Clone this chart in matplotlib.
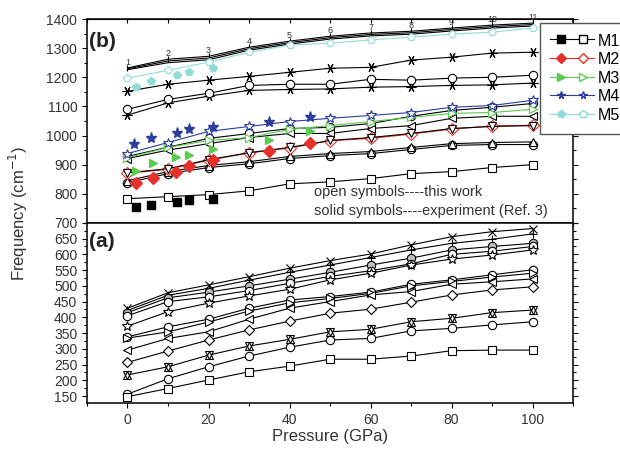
import matplotlib
matplotlib.use("Agg")
import matplotlib.pyplot as plt
from matplotlib.lines import Line2D
from matplotlib.legend_handler import HandlerTuple
from matplotlib.ticker import MultipleLocator

plt.rcParams['font.family'] = ['Liberation Sans', 'DejaVu Sans']

# pressure grid of the calculated (open symbol) curves
pressure = [0, 10, 20, 30, 40, 50, 60, 70, 80, 90, 100]

# ---- panel (b): high frequency modes ----
b_top1 = [1232, 1262, 1272, 1303, 1324, 1341, 1352, 1358, 1369, 1379, 1386]
b_top2 = [1229, 1256, 1266, 1298, 1319, 1336, 1347, 1353, 1364, 1374, 1381]
b_top3 = [1226, 1250, 1260, 1293, 1314, 1331, 1342, 1348, 1359, 1369, 1376]
b_ast_hi = [1152, 1176, 1190, 1203, 1217, 1231, 1234, 1259, 1269, 1283, 1286]
b_circ_hi = [1090, 1124, 1145, 1172, 1176, 1176, 1193, 1190, 1197, 1200, 1207]
b_ast_lo = [1070, 1112, 1135, 1155, 1158, 1160, 1166, 1168, 1172, 1174, 1180]
b_circ_mid = [928, 960, 990, 1007, 1024, 1028, 1041, 1066, 1086, 1097, 1110]
b_ltri = [921, 950, 972, 993, 1007, 1007, 1024, 1034, 1059, 1066, 1066]
b_dtri = [872, 886, 917, 941, 959, 983, 993, 1007, 1024, 1031, 1034]
b_utri = [845, 876, 897, 910, 928, 938, 945, 959, 972, 976, 978]
b_circ_lo = [838, 869, 890, 903, 921, 931, 938, 952, 966, 969, 969]

# open symbols, this work
m1_calc = [783, 790, 797, 810, 834, 841, 852, 869, 876, 890, 900]
m2_calc = [870, 884, 915, 940, 957, 982, 990, 1005, 1022, 1033, 1035]
m3_calc = [924, 959, 983, 993, 1021, 1034, 1048, 1062, 1076, 1079, 1090]
m4_calc = [938, 976, 1014, 1031, 1048, 1059, 1069, 1079, 1097, 1103, 1121]
m5_calc = [1197, 1224, 1252, 1286, 1310, 1317, 1328, 1338, 1348, 1355, 1369]

# solid symbols, experiment (Ref. 3)
m1_exp_p = [2.2, 5.9, 12.1, 15.3, 21]
m1_exp = [755, 762, 772, 779, 783]
m2_exp_p = [2.2, 6.2, 12, 15.3, 21, 35, 45]
m2_exp = [838, 855, 876, 897, 917, 948, 976]
m3_exp_p = [2.2, 6.2, 12, 15.3, 21, 35, 45]
m3_exp = [879, 904, 925, 934, 954, 985, 1014]
m4_exp_p = [1.7, 5.9, 12.1, 15.1, 21, 35, 45]
m4_exp = [972, 990, 1010, 1021, 1028, 1048, 1062]
m5_exp_p = [2.2, 5.9, 12.1, 15.3, 21]
m5_exp = [1166, 1186, 1207, 1217, 1231]

# ---- panel (a): low frequency modes ----
a_cross = [429, 478, 503, 529, 556, 580, 601, 630, 656, 672, 682]
a_plus = [422, 470, 492, 518, 543, 566, 590, 614, 635, 648, 665]
a_gray = [415, 462, 480, 500, 521, 543, 566, 588, 614, 625, 635]
a_circ_hi = [405, 450, 465, 485, 508, 530, 548, 570, 600, 610, 625]
a_star = [372, 418, 445, 468, 489, 519, 540, 566, 585, 598, 614]
a_circ_mid = [338, 370, 394, 429, 455, 466, 480, 505, 519, 535, 551]
a_rtri = [334, 354, 385, 420, 446, 460, 476, 500, 514, 528, 540]
a_ltri = [296, 333, 354, 394, 429, 450, 471, 482, 505, 513, 522]
a_diam = [257, 293, 328, 360, 388, 413, 426, 448, 471, 487, 497]
a_hex = [217, 243, 280, 309, 330, 354, 362, 386, 397, 415, 423]
a_circ_lo = [156, 205, 243, 277, 305, 328, 333, 357, 365, 376, 386]
a_square = [148, 174, 201, 227, 245, 267, 267, 277, 294, 296, 296]

names = ['M1', 'M2', 'M3', 'M4', 'M5']
colors = ['black', '#e4312b', '#5cc94f', '#2a3c9e', '#8fddd6']
markers = ['s', 'D', '>', '*', 'p']

fig = plt.figure(figsize=(6.2, 4.53), dpi=100)
ax_b = fig.add_axes([0.1403, 0.508, 0.784, 0.450])
ax_a = fig.add_axes([0.1403, 0.1104, 0.784, 0.3976])

ms = 6
lw = 0.8


def open_line(ax, y, mk, color='black', size=ms, face='white'):
    ax.plot(pressure, y, color=color, lw=lw, marker=mk, markersize=size,
            markerfacecolor=face, markeredgecolor=color, markeredgewidth=0.8)


# panel (b)
for y in (b_top2, b_top3):
    open_line(ax_b, y, None)
open_line(ax_b, b_top1, '|', size=5)
for i, (p, y) in enumerate(zip(pressure, b_top1)):
    ax_b.text(p, y + 3, str(i + 1), fontsize=6.5, ha='center', va='bottom',
              color='#333333')
open_line(ax_b, b_ast_hi, (6, 2, 90), size=7)
open_line(ax_b, b_ast_lo, (6, 2, 90), size=7)
open_line(ax_b, b_circ_hi, 'o')
open_line(ax_b, b_circ_lo, 'o')
open_line(ax_b, b_utri, '^')
open_line(ax_b, b_circ_mid, 'o')
open_line(ax_b, b_ltri, '<')

calc = [m1_calc, m2_calc, m3_calc, m4_calc, m5_calc]
for y, c, mk in zip(calc, colors, markers):
    open_line(ax_b, y, mk, color=c, size=ms + 1 if mk == '*' else ms)
open_line(ax_b, b_dtri, 'v')

exp = [(m1_exp_p, m1_exp), (m2_exp_p, m2_exp), (m3_exp_p, m3_exp),
       (m4_exp_p, m4_exp), (m5_exp_p, m5_exp)]
for (p, y), c, mk in zip(exp, colors, markers):
    ax_b.plot(p, y, linestyle='none', marker=mk, color=c,
              markersize=ms + 2 if mk == '*' else ms)

# panel (a)
open_line(ax_a, a_cross, 'x')
open_line(ax_a, a_plus, '+')
open_line(ax_a, a_gray, 'o', face='#bdbdbd')
open_line(ax_a, a_circ_hi, 'o')
open_line(ax_a, a_star, '*', size=7)
open_line(ax_a, a_circ_mid, 'o')
open_line(ax_a, a_rtri, '>')
open_line(ax_a, a_ltri, '<')
open_line(ax_a, a_diam, 'D', size=5.5)
open_line(ax_a, a_hex, '^')
ax_a.plot(pressure, a_hex, linestyle='none', marker='v', markersize=ms,
          markerfacecolor='none', markeredgecolor='black', markeredgewidth=0.8)
open_line(ax_a, a_circ_lo, 'o')
open_line(ax_a, a_square, 's', size=5.5)

# axes styling
for ax in (ax_a, ax_b):
    ax.set_xlim(-10, 110)
    ax.xaxis.set_major_locator(MultipleLocator(20))
    ax.xaxis.set_minor_locator(MultipleLocator(10))
    ax.tick_params(which='both', direction='out', right=True, labelsize=10,
                   width=0.8, labelcolor='#333333')
    ax.tick_params(which='minor', length=2.5)
    for s in ax.spines.values():
        s.set_linewidth(1.1)

ax_b.set_ylim(700, 1400)
ax_b.yaxis.set_major_locator(MultipleLocator(100))
ax_b.yaxis.set_minor_locator(MultipleLocator(50))
ax_b.tick_params(axis='x', labelbottom=False)
sec = ax_b.secondary_xaxis('top')
sec.xaxis.set_major_locator(MultipleLocator(10))
sec.tick_params(direction='in', labeltop=False, length=3, width=0.8)

ax_a.set_ylim(128, 700)
ax_a.set_yticks(range(150, 651, 50))
ax_a.yaxis.set_minor_locator(MultipleLocator(25))

ax_a.set_xlabel('Pressure (GPa)', fontsize=12, color='#333333', labelpad=2)
fig.text(0.03, 0.53, 'Frequency (cm$^{-1}$)', rotation=90, fontsize=12,
         color='#333333', ha='center', va='center')

ax_b.text(0.005, 0.89, '(b)', transform=ax_b.transAxes, fontsize=15,
          fontweight='bold', color='#222222', va='center')
ax_a.text(0.005, 0.895, '(a)', transform=ax_a.transAxes, fontsize=15,
          fontweight='bold', color='#222222', va='center')
ax_b.text(46, 806, 'open symbols----this work', fontsize=10.5,
          color='#333333', va='center')
ax_b.text(46, 741, 'solid symbols----experiment (Ref. 3)', fontsize=10.5,
          color='#333333', va='center')

handles = []
for c, mk in zip(colors, markers):
    solid = Line2D([], [], color=c, lw=lw, marker=mk, markersize=5.5)
    hollow = Line2D([], [], color=c, lw=lw, marker=mk, markersize=5.5,
                    markerfacecolor='white')
    handles.append((solid, hollow))
fig.legend(handles, names, loc='upper left',
           bbox_to_anchor=(540 / 620, 1 - 23 / 453), borderaxespad=0,
           handler_map={tuple: HandlerTuple(ndivide=None, pad=0)},
           handlelength=2.7, handletextpad=0.25, labelspacing=0.22,
           fontsize=11.5, fancybox=False, edgecolor='#555555', framealpha=1,
           borderpad=0.65, handleheight=0.9)

fig.savefig('out.png', dpi=100)
